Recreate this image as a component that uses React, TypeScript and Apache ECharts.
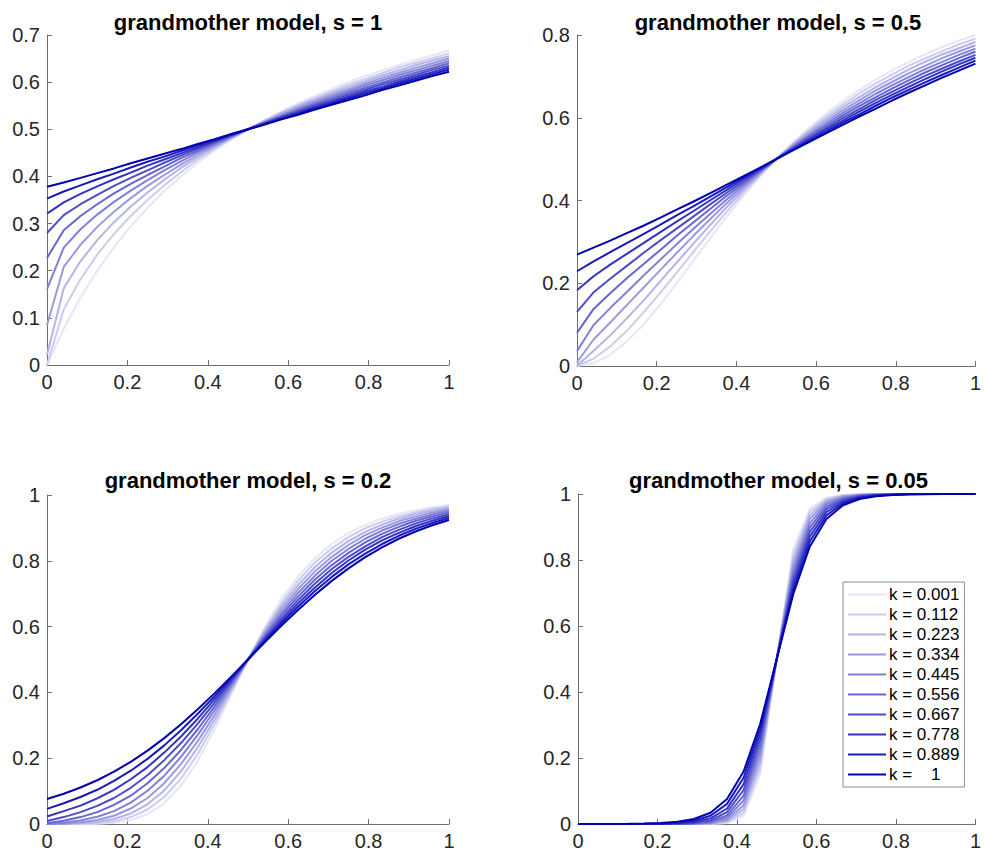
import React, { useEffect, useRef } from "react";
import * as echarts from "echarts";

// x sample positions (0 .. 1 in steps of 1/24)
const xValues = [
  0, 0.04167, 0.08333, 0.125, 0.16667, 0.20833, 0.25, 0.29167, 0.33333, 0.375, 0.41667, 0.45833, 0.5,
  0.54167, 0.58333, 0.625, 0.66667, 0.70833, 0.75, 0.79167, 0.83333, 0.875, 0.91667, 0.95833, 1,
];

const kLabels = ["0.001", "0.112", "0.223", "0.334", "0.445", "0.556", "0.667", "0.778", "0.889", "   1"];
const sLabels = ["1", "0.5", "0.2", "0.05"];

// s = 1
const curvesS1 = [
  [0, 0.077, 0.143, 0.2, 0.25, 0.294, 0.333, 0.369, 0.4, 0.429, 0.455, 0.478, 0.5, 0.52, 0.538, 0.556, 0.571, 0.586, 0.6, 0.613, 0.625, 0.636, 0.647, 0.657, 0.667],
  [0.0003, 0.118, 0.182, 0.234, 0.278, 0.316, 0.35, 0.381, 0.409, 0.435, 0.458, 0.48, 0.5, 0.519, 0.536, 0.552, 0.567, 0.581, 0.595, 0.607, 0.619, 0.631, 0.641, 0.651, 0.661],
  [0.021, 0.163, 0.22, 0.265, 0.303, 0.336, 0.366, 0.393, 0.418, 0.441, 0.462, 0.482, 0.5, 0.517, 0.534, 0.549, 0.563, 0.577, 0.59, 0.602, 0.614, 0.625, 0.636, 0.646, 0.655],
  [0.085, 0.208, 0.255, 0.293, 0.325, 0.354, 0.38, 0.403, 0.425, 0.446, 0.465, 0.483, 0.5, 0.516, 0.531, 0.546, 0.56, 0.573, 0.585, 0.597, 0.609, 0.62, 0.63, 0.64, 0.65],
  [0.161, 0.249, 0.288, 0.319, 0.346, 0.37, 0.392, 0.413, 0.432, 0.451, 0.468, 0.484, 0.5, 0.515, 0.529, 0.543, 0.556, 0.569, 0.581, 0.593, 0.604, 0.615, 0.625, 0.635, 0.645],
  [0.227, 0.286, 0.316, 0.341, 0.364, 0.384, 0.403, 0.421, 0.439, 0.455, 0.471, 0.486, 0.5, 0.514, 0.527, 0.54, 0.553, 0.565, 0.577, 0.588, 0.599, 0.61, 0.62, 0.63, 0.64],
  [0.28, 0.318, 0.341, 0.361, 0.38, 0.397, 0.413, 0.429, 0.444, 0.459, 0.473, 0.487, 0.5, 0.513, 0.526, 0.538, 0.55, 0.561, 0.573, 0.584, 0.595, 0.605, 0.615, 0.626, 0.635],
  [0.321, 0.345, 0.363, 0.379, 0.394, 0.408, 0.423, 0.436, 0.449, 0.462, 0.475, 0.488, 0.5, 0.512, 0.524, 0.535, 0.547, 0.558, 0.569, 0.58, 0.59, 0.601, 0.611, 0.621, 0.631],
  [0.353, 0.368, 0.381, 0.394, 0.406, 0.419, 0.431, 0.442, 0.454, 0.466, 0.477, 0.489, 0.5, 0.511, 0.522, 0.533, 0.544, 0.555, 0.566, 0.576, 0.586, 0.597, 0.607, 0.617, 0.627],
  [0.378, 0.387, 0.397, 0.407, 0.417, 0.428, 0.438, 0.448, 0.458, 0.469, 0.479, 0.49, 0.5, 0.51, 0.521, 0.531, 0.542, 0.552, 0.562, 0.572, 0.583, 0.593, 0.603, 0.613, 0.622],
];

// s = 0.5
const curvesS05 = [
  [0, 0.007, 0.027, 0.059, 0.1, 0.148, 0.2, 0.254, 0.308, 0.36, 0.41, 0.457, 0.5, 0.54, 0.576, 0.61, 0.64, 0.667, 0.692, 0.715, 0.735, 0.754, 0.771, 0.786, 0.8],
  [0, 0.018, 0.047, 0.085, 0.129, 0.176, 0.225, 0.275, 0.324, 0.372, 0.417, 0.46, 0.5, 0.537, 0.571, 0.603, 0.632, 0.659, 0.683, 0.705, 0.726, 0.744, 0.761, 0.777, 0.791],
  [0.0005, 0.037, 0.074, 0.115, 0.158, 0.204, 0.25, 0.295, 0.34, 0.383, 0.424, 0.463, 0.5, 0.535, 0.567, 0.597, 0.625, 0.65, 0.674, 0.696, 0.717, 0.736, 0.753, 0.768, 0.783],
  [0.009, 0.064, 0.105, 0.147, 0.189, 0.231, 0.273, 0.314, 0.354, 0.393, 0.43, 0.466, 0.5, 0.532, 0.562, 0.591, 0.618, 0.642, 0.666, 0.687, 0.708, 0.726, 0.744, 0.76, 0.775],
  [0.036, 0.099, 0.14, 0.179, 0.218, 0.256, 0.294, 0.331, 0.367, 0.402, 0.436, 0.469, 0.5, 0.53, 0.558, 0.585, 0.611, 0.635, 0.658, 0.679, 0.699, 0.718, 0.735, 0.752, 0.767],
  [0.08, 0.138, 0.176, 0.212, 0.246, 0.28, 0.314, 0.347, 0.379, 0.411, 0.441, 0.471, 0.5, 0.528, 0.555, 0.58, 0.605, 0.628, 0.65, 0.671, 0.691, 0.71, 0.727, 0.744, 0.76],
  [0.131, 0.178, 0.211, 0.242, 0.273, 0.303, 0.332, 0.361, 0.39, 0.418, 0.446, 0.473, 0.5, 0.526, 0.551, 0.575, 0.599, 0.621, 0.643, 0.663, 0.683, 0.702, 0.719, 0.736, 0.752],
  [0.183, 0.217, 0.245, 0.271, 0.297, 0.323, 0.349, 0.374, 0.4, 0.425, 0.451, 0.475, 0.5, 0.524, 0.548, 0.571, 0.593, 0.615, 0.636, 0.656, 0.675, 0.694, 0.712, 0.729, 0.745],
  [0.229, 0.253, 0.275, 0.297, 0.319, 0.341, 0.364, 0.386, 0.409, 0.432, 0.455, 0.477, 0.5, 0.522, 0.544, 0.566, 0.588, 0.608, 0.629, 0.649, 0.668, 0.686, 0.704, 0.721, 0.738],
  [0.269, 0.286, 0.303, 0.321, 0.339, 0.358, 0.378, 0.397, 0.417, 0.438, 0.458, 0.479, 0.5, 0.521, 0.542, 0.562, 0.583, 0.603, 0.622, 0.642, 0.661, 0.679, 0.697, 0.714, 0.731],
];

// s = 0.2
const curvesS02 = [
  [0, 0, 0.0001, 0.001, 0.004, 0.012, 0.03, 0.063, 0.117, 0.192, 0.287, 0.393, 0.5, 0.599, 0.684, 0.753, 0.808, 0.851, 0.884, 0.909, 0.928, 0.943, 0.954, 0.963, 0.97],
  [0, 0, 0.001, 0.003, 0.008, 0.021, 0.044, 0.082, 0.138, 0.213, 0.303, 0.401, 0.5, 0.592, 0.672, 0.74, 0.795, 0.838, 0.872, 0.899, 0.919, 0.935, 0.948, 0.958, 0.966],
  [0, 0.0003, 0.002, 0.006, 0.015, 0.032, 0.06, 0.102, 0.16, 0.233, 0.317, 0.409, 0.5, 0.586, 0.662, 0.727, 0.781, 0.825, 0.86, 0.888, 0.91, 0.928, 0.942, 0.953, 0.961],
  [0, 0.001, 0.005, 0.012, 0.025, 0.047, 0.079, 0.124, 0.182, 0.252, 0.331, 0.416, 0.5, 0.58, 0.652, 0.715, 0.768, 0.812, 0.848, 0.878, 0.901, 0.92, 0.935, 0.947, 0.957],
  [0.0003, 0.004, 0.011, 0.022, 0.039, 0.065, 0.101, 0.147, 0.204, 0.271, 0.345, 0.422, 0.5, 0.574, 0.642, 0.703, 0.755, 0.8, 0.836, 0.867, 0.892, 0.912, 0.928, 0.941, 0.952],
  [0.002, 0.01, 0.021, 0.036, 0.058, 0.086, 0.124, 0.17, 0.225, 0.288, 0.357, 0.428, 0.5, 0.569, 0.634, 0.692, 0.743, 0.787, 0.824, 0.856, 0.882, 0.903, 0.921, 0.935, 0.947],
  [0.009, 0.021, 0.036, 0.055, 0.079, 0.11, 0.148, 0.194, 0.246, 0.305, 0.368, 0.434, 0.5, 0.564, 0.625, 0.681, 0.731, 0.775, 0.812, 0.844, 0.872, 0.894, 0.913, 0.929, 0.941],
  [0.023, 0.039, 0.056, 0.078, 0.104, 0.136, 0.173, 0.217, 0.266, 0.32, 0.379, 0.439, 0.5, 0.56, 0.617, 0.671, 0.719, 0.763, 0.801, 0.834, 0.862, 0.885, 0.905, 0.922, 0.936],
  [0.046, 0.063, 0.082, 0.104, 0.131, 0.162, 0.198, 0.239, 0.285, 0.335, 0.388, 0.444, 0.5, 0.556, 0.61, 0.661, 0.708, 0.751, 0.789, 0.822, 0.851, 0.876, 0.897, 0.915, 0.93],
  [0.076, 0.092, 0.111, 0.133, 0.159, 0.189, 0.223, 0.261, 0.303, 0.349, 0.397, 0.448, 0.5, 0.552, 0.603, 0.651, 0.697, 0.739, 0.777, 0.811, 0.841, 0.867, 0.889, 0.908, 0.924],
];

// s = 0.05
const curvesS005 = [
  [0, 0, 0, 0, 0, 0, 0, 0, 0.0003, 0.003, 0.025, 0.149, 0.5, 0.832, 0.956, 0.989, 0.997, 0.999, 1, 1, 1, 1, 1, 1, 1],
  [0, 0, 0, 0, 0, 0, 0, 0.0001, 0.001, 0.005, 0.034, 0.168, 0.5, 0.816, 0.947, 0.985, 0.996, 0.999, 1, 1, 1, 1, 1, 1, 1],
  [0, 0, 0, 0, 0, 0, 0, 0.0002, 0.001, 0.008, 0.045, 0.186, 0.5, 0.8, 0.936, 0.981, 0.994, 0.998, 0.999, 1, 1, 1, 1, 1, 1],
  [0, 0, 0, 0, 0, 0, 0.0001, 0.0004, 0.002, 0.013, 0.057, 0.204, 0.5, 0.784, 0.925, 0.975, 0.992, 0.997, 0.999, 1, 1, 1, 1, 1, 1],
  [0, 0, 0, 0, 0, 0, 0.0002, 0.001, 0.004, 0.019, 0.071, 0.222, 0.5, 0.768, 0.912, 0.969, 0.989, 0.996, 0.999, 0.999, 1, 1, 1, 1, 1],
  [0, 0, 0, 0, 0, 0.0001, 0.0004, 0.002, 0.007, 0.026, 0.086, 0.24, 0.5, 0.753, 0.899, 0.962, 0.986, 0.995, 0.998, 0.999, 1, 1, 1, 1, 1],
  [0, 0, 0, 0, 0.0001, 0.0002, 0.001, 0.003, 0.011, 0.036, 0.103, 0.256, 0.5, 0.738, 0.885, 0.954, 0.982, 0.993, 0.997, 0.999, 1, 1, 1, 1, 1],
  [0, 0, 0, 0.0001, 0.0002, 0.001, 0.002, 0.006, 0.017, 0.047, 0.121, 0.273, 0.5, 0.724, 0.871, 0.945, 0.977, 0.991, 0.996, 0.998, 0.999, 1, 1, 1, 1],
  [0, 0, 0.0001, 0.0002, 0.0005, 0.001, 0.004, 0.01, 0.025, 0.061, 0.14, 0.288, 0.5, 0.71, 0.856, 0.935, 0.972, 0.988, 0.995, 0.998, 0.999, 1, 1, 1, 1],
  [0, 0.0001, 0.0002, 0.0006, 0.0013, 0.003, 0.007, 0.015, 0.034, 0.076, 0.159, 0.303, 0.5, 0.697, 0.841, 0.924, 0.966, 0.985, 0.993, 0.997, 0.999, 0.999, 1, 1, 1],
];

const panelCurves = [curvesS1, curvesS05, curvesS02, curvesS005];
const yMaxes = [0.7, 0.8, 1, 1];
const yIntervals = [0.1, 0.2, 0.2, 0.2];

const FONT = '"Liberation Sans", Arial, Helvetica, sans-serif';
const AXIS_COLOR = "#6e6e6e";
const LABEL_COLOR = "#262626";

const GRIDS = [
  { left: 47, top: 35, width: 402, height: 330 },
  { left: 577, top: 35, width: 402, height: 331 },
  { left: 47, top: 495, width: 402, height: 329 },
  { left: 578, top: 494, width: 401, height: 330 },
];
const TITLE_TOPS = [11, 11, 469, 469];

function kColor(j: number): string {
  const a = 0.1 + 0.1 * j;
  const base = [0, 0, 179];
  const c = base.map((v) => Math.round(255 + (v - 255) * a));
  return `rgb(${c[0]},${c[1]},${c[2]})`;
}

function seriesName(p: number, j: number): string {
  return p === 3 ? `k = ${kLabels[j]}` : `s=${sLabels[p]} | k = ${kLabels[j]}`;
}

export default function App() {
  const ref = useRef<HTMLDivElement>(null);

  useEffect(() => {
    if (!ref.current) return;
    const chart = echarts.init(ref.current, undefined, { renderer: "svg" });

    const grid = GRIDS.map((g) => ({ ...g, containLabel: false }));

    const xAxis = GRIDS.map((_, p) => ({
      gridIndex: p,
      type: "value",
      min: 0,
      max: 1,
      interval: 0.2,
      axisLine: { show: true, onZero: false, lineStyle: { color: AXIS_COLOR, width: 1 } },
      axisTick: { show: true, inside: true, length: 5, lineStyle: { color: AXIS_COLOR, width: 1 } },
      axisLabel: { fontSize: 20, color: LABEL_COLOR, margin: 7, fontFamily: FONT },
      splitLine: { show: false },
    }));

    const yAxis = GRIDS.map((_, p) => ({
      gridIndex: p,
      type: "value",
      min: 0,
      max: yMaxes[p],
      interval: yIntervals[p],
      axisLine: { show: true, onZero: false, lineStyle: { color: AXIS_COLOR, width: 1 } },
      axisTick: { show: true, inside: true, length: 5, lineStyle: { color: AXIS_COLOR, width: 1 } },
      axisLabel: { fontSize: 20, color: LABEL_COLOR, margin: 7, fontFamily: FONT },
      splitLine: { show: false },
    }));

    const series: any[] = [];
    panelCurves.forEach((curves, p) => {
      curves.forEach((vals, j) => {
        const color = kColor(j);
        series.push({
          type: "line",
          name: seriesName(p, j),
          xAxisIndex: p,
          yAxisIndex: p,
          data: xValues.map((x, i) => [x, vals[i]]),
          symbol: "none",
          showSymbol: false,
          clip: false,
          silent: true,
          z: 2,
          lineStyle: { color, width: 2 },
          itemStyle: { color },
        });
      });
    });

    const title = GRIDS.map((g, p) => ({
      text: `grandmother model, s = ${sLabels[p]}`,
      left: g.left + g.width / 2,
      top: TITLE_TOPS[p],
      textAlign: "center",
      padding: 0,
      textStyle: { fontSize: 22, fontWeight: "bold", color: "#000", fontFamily: FONT },
    }));

    chart.setOption({
      animation: false,
      backgroundColor: "#ffffff",
      title,
      grid,
      xAxis,
      yAxis,
      legend: {
        data: kLabels.map((k) => `k = ${k}`),
        orient: "vertical",
        left: 843,
        top: 582,
        icon: "rect",
        itemWidth: 38,
        itemHeight: 2,
        itemGap: 3,
        selectedMode: false,
        backgroundColor: "#ffffff",
        borderColor: "#8c8c8c",
        borderWidth: 1,
        borderRadius: 0,
        padding: [4, 5, 4, 5],
        textStyle: { fontSize: 17, lineHeight: 17, color: "#000", fontFamily: FONT, padding: [0, 0, 0, -2] },
      },
      series,
    });

    return () => {
      chart.dispose();
    };
  }, []);

  return (
    <div
      ref={ref}
      style={{ position: "fixed", left: 0, top: 0, width: 984, height: 856, background: "#fff" }}
    />
  );
}
